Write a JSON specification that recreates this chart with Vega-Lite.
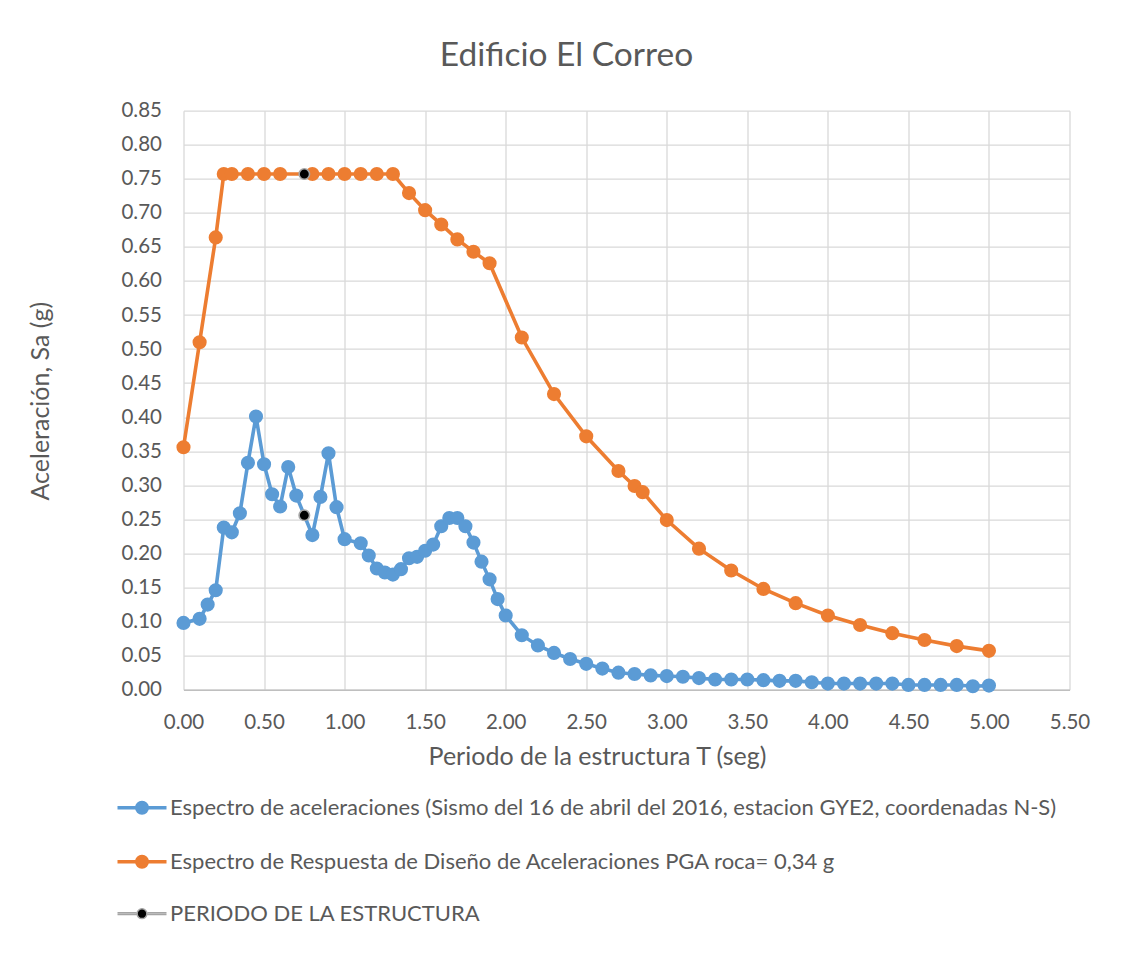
{
  "$schema": "https://vega.github.io/schema/vega-lite/v6.json",
  "width": 886,
  "height": 579,
  "autosize": {"type": "none"},
  "padding": {"left": 183.5, "top": 110.7, "right": 64.5, "bottom": 266.3},
  "background": "#ffffff",
  "title": {
    "text": "Edificio El Correo",
    "font": "Lato",
    "fontSize": 33.5,
    "fontWeight": "normal",
    "color": "#595959",
    "anchor": "middle",
    "frame": "group",
    "dx": -60,
    "offset": 27
  },
  "config": {
    "view": {"stroke": null},
    "axis": {
      "labelFont": "Lato",
      "labelFontSize": 20.5,
      "labelColor": "#595959",
      "titleFont": "Lato",
      "titleFontSize": 25,
      "titleFontWeight": "normal",
      "titleColor": "#595959",
      "gridColor": "#D9D9D9",
      "gridWidth": 1.3,
      "ticks": false,
      "labelFlush": false,
      "labelOverlap": false
    },
    "legend": {
      "labelFont": "Lato",
      "labelFontSize": 22,
      "labelColor": "#595959"
    }
  },
  "data": {
    "values": [
      {"serie": "A", "T": 0.00, "Sa": 0.098},
      {"serie": "A", "T": 0.10, "Sa": 0.104},
      {"serie": "A", "T": 0.15, "Sa": 0.125},
      {"serie": "A", "T": 0.20, "Sa": 0.146},
      {"serie": "A", "T": 0.25, "Sa": 0.238},
      {"serie": "A", "T": 0.30, "Sa": 0.231},
      {"serie": "A", "T": 0.35, "Sa": 0.259},
      {"serie": "A", "T": 0.40, "Sa": 0.333},
      {"serie": "A", "T": 0.45, "Sa": 0.401},
      {"serie": "A", "T": 0.50, "Sa": 0.331},
      {"serie": "A", "T": 0.55, "Sa": 0.287},
      {"serie": "A", "T": 0.60, "Sa": 0.269},
      {"serie": "A", "T": 0.65, "Sa": 0.327},
      {"serie": "A", "T": 0.70, "Sa": 0.285},
      {"serie": "A", "T": 0.80, "Sa": 0.227},
      {"serie": "A", "T": 0.85, "Sa": 0.283},
      {"serie": "A", "T": 0.90, "Sa": 0.347},
      {"serie": "A", "T": 0.95, "Sa": 0.268},
      {"serie": "A", "T": 1.00, "Sa": 0.221},
      {"serie": "A", "T": 1.10, "Sa": 0.215},
      {"serie": "A", "T": 1.15, "Sa": 0.197},
      {"serie": "A", "T": 1.20, "Sa": 0.178},
      {"serie": "A", "T": 1.25, "Sa": 0.172},
      {"serie": "A", "T": 1.30, "Sa": 0.169},
      {"serie": "A", "T": 1.35, "Sa": 0.177},
      {"serie": "A", "T": 1.40, "Sa": 0.193},
      {"serie": "A", "T": 1.45, "Sa": 0.195},
      {"serie": "A", "T": 1.50, "Sa": 0.204},
      {"serie": "A", "T": 1.55, "Sa": 0.213},
      {"serie": "A", "T": 1.60, "Sa": 0.240},
      {"serie": "A", "T": 1.65, "Sa": 0.252},
      {"serie": "A", "T": 1.70, "Sa": 0.252},
      {"serie": "A", "T": 1.75, "Sa": 0.240},
      {"serie": "A", "T": 1.80, "Sa": 0.216},
      {"serie": "A", "T": 1.85, "Sa": 0.188},
      {"serie": "A", "T": 1.90, "Sa": 0.162},
      {"serie": "A", "T": 1.95, "Sa": 0.133},
      {"serie": "A", "T": 2.00, "Sa": 0.109},
      {"serie": "A", "T": 2.10, "Sa": 0.080},
      {"serie": "A", "T": 2.20, "Sa": 0.065},
      {"serie": "A", "T": 2.30, "Sa": 0.054},
      {"serie": "A", "T": 2.40, "Sa": 0.045},
      {"serie": "A", "T": 2.50, "Sa": 0.038},
      {"serie": "A", "T": 2.60, "Sa": 0.031},
      {"serie": "A", "T": 2.70, "Sa": 0.025},
      {"serie": "A", "T": 2.80, "Sa": 0.023},
      {"serie": "A", "T": 2.90, "Sa": 0.021},
      {"serie": "A", "T": 3.00, "Sa": 0.020},
      {"serie": "A", "T": 3.10, "Sa": 0.019},
      {"serie": "A", "T": 3.20, "Sa": 0.017},
      {"serie": "A", "T": 3.30, "Sa": 0.015},
      {"serie": "A", "T": 3.40, "Sa": 0.015},
      {"serie": "A", "T": 3.50, "Sa": 0.015},
      {"serie": "A", "T": 3.60, "Sa": 0.014},
      {"serie": "A", "T": 3.70, "Sa": 0.013},
      {"serie": "A", "T": 3.80, "Sa": 0.013},
      {"serie": "A", "T": 3.90, "Sa": 0.011},
      {"serie": "A", "T": 4.00, "Sa": 0.009},
      {"serie": "A", "T": 4.10, "Sa": 0.009},
      {"serie": "A", "T": 4.20, "Sa": 0.009},
      {"serie": "A", "T": 4.30, "Sa": 0.009},
      {"serie": "A", "T": 4.40, "Sa": 0.009},
      {"serie": "A", "T": 4.50, "Sa": 0.007},
      {"serie": "A", "T": 4.60, "Sa": 0.007},
      {"serie": "A", "T": 4.70, "Sa": 0.007},
      {"serie": "A", "T": 4.80, "Sa": 0.007},
      {"serie": "A", "T": 4.90, "Sa": 0.005},
      {"serie": "A", "T": 5.00, "Sa": 0.006},
      {"serie": "B", "T": 0.00, "Sa": 0.356},
      {"serie": "B", "T": 0.10, "Sa": 0.510},
      {"serie": "B", "T": 0.20, "Sa": 0.664},
      {"serie": "B", "T": 0.25, "Sa": 0.757},
      {"serie": "B", "T": 0.30, "Sa": 0.757},
      {"serie": "B", "T": 0.40, "Sa": 0.757},
      {"serie": "B", "T": 0.50, "Sa": 0.757},
      {"serie": "B", "T": 0.60, "Sa": 0.757},
      {"serie": "B", "T": 0.80, "Sa": 0.757},
      {"serie": "B", "T": 0.90, "Sa": 0.757},
      {"serie": "B", "T": 1.00, "Sa": 0.757},
      {"serie": "B", "T": 1.10, "Sa": 0.757},
      {"serie": "B", "T": 1.20, "Sa": 0.757},
      {"serie": "B", "T": 1.30, "Sa": 0.757},
      {"serie": "B", "T": 1.40, "Sa": 0.729},
      {"serie": "B", "T": 1.50, "Sa": 0.704},
      {"serie": "B", "T": 1.60, "Sa": 0.683},
      {"serie": "B", "T": 1.70, "Sa": 0.661},
      {"serie": "B", "T": 1.80, "Sa": 0.643},
      {"serie": "B", "T": 1.90, "Sa": 0.626},
      {"serie": "B", "T": 2.10, "Sa": 0.517},
      {"serie": "B", "T": 2.30, "Sa": 0.434},
      {"serie": "B", "T": 2.50, "Sa": 0.372},
      {"serie": "B", "T": 2.70, "Sa": 0.321},
      {"serie": "B", "T": 2.80, "Sa": 0.299},
      {"serie": "B", "T": 2.85, "Sa": 0.290},
      {"serie": "B", "T": 3.00, "Sa": 0.249},
      {"serie": "B", "T": 3.20, "Sa": 0.207},
      {"serie": "B", "T": 3.40, "Sa": 0.175},
      {"serie": "B", "T": 3.60, "Sa": 0.148},
      {"serie": "B", "T": 3.80, "Sa": 0.127},
      {"serie": "B", "T": 4.00, "Sa": 0.109},
      {"serie": "B", "T": 4.20, "Sa": 0.095},
      {"serie": "B", "T": 4.40, "Sa": 0.083},
      {"serie": "B", "T": 4.60, "Sa": 0.073},
      {"serie": "B", "T": 4.80, "Sa": 0.064},
      {"serie": "B", "T": 5.00, "Sa": 0.057},
      {"serie": "C", "T": 0.75, "Sa": 0.757},
      {"serie": "C", "T": 0.75, "Sa": 0.256}
    ]
  },
  "transform": [
    {"calculate": "datum.serie === 'A' ? 'Espectro de aceleraciones (Sismo del 16 de abril del 2016, estacion GYE2, coordenadas N-S)' : datum.serie === 'B' ? 'Espectro de Respuesta de Diseño de Aceleraciones PGA roca= 0,34 g' : 'PERIODO DE LA ESTRUCTURA'", "as": "Serie"}
  ],
  "encoding": {
    "x": {
      "field": "T", "type": "quantitative",
      "scale": {"domain": [0, 5.5], "nice": false, "zero": false},
      "axis": {
        "values": [0, 0.5, 1, 1.5, 2, 2.5, 3, 3.5, 4, 4.5, 5, 5.5],
        "format": ".2f",
        "title": "Periodo de la estructura T (seg)",
        "domainColor": "#BFBFBF",
        "domainWidth": 1.5,
        "labelPadding": 23,
        "titleX": 413.5,
        "titleY": 67,
        "titleBaseline": "middle",
        "titleAlign": "center"
      }
    },
    "y": {
      "field": "Sa", "type": "quantitative",
      "scale": {"domain": [0, 0.85], "nice": false},
      "axis": {
        "values": [0, 0.05, 0.1, 0.15, 0.2, 0.25, 0.3, 0.35, 0.4, 0.45, 0.5, 0.55, 0.6, 0.65, 0.7, 0.75, 0.8, 0.85],
        "format": ".2f",
        "title": "Aceleración, Sa (g)",
        "domain": false,
        "labelPadding": 22,
        "titleX": -143.5,
        "titleY": 290,
        "titleAngle": -90,
        "titleBaseline": "middle",
        "titleAlign": "center"
      }
    }
  },
  "layer": [
    {
      "transform": [{"filter": "datum.serie !== 'C'"}],
      "mark": {"type": "line", "strokeWidth": 3.6},
      "encoding": {
        "stroke": {
          "field": "Serie", "type": "nominal",
          "scale": {
            "domain": ["Espectro de aceleraciones (Sismo del 16 de abril del 2016, estacion GYE2, coordenadas N-S)", "Espectro de Respuesta de Diseño de Aceleraciones PGA roca= 0,34 g", "PERIODO DE LA ESTRUCTURA"],
            "range": ["#5B9BD5", "#ED7D31", "#A5A5A5"]
          },
          "legend": {
            "title": null,
            "orient": "none",
            "direction": "vertical",
            "legendX": -52.5,
            "legendY": 686,
            "padding": 0,
            "symbolSize": 196,
            "symbolStrokeWidth": 0,
            "labelOffset": 17,
            "rowPadding": 28,
            "labelLimit": 1000,
            "encode": {
              "symbols": {
                "update": {
                  "shape": {"signal": "datum.value === 'PERIODO DE LA ESTRUCTURA' ? 'M-3.5,-0.12H-0.8M-3.5,0.12H-0.8M0.8,-0.12H3.5M0.8,0.12H3.5M-0.7,0A0.7,0.7 0 1,1 0.7,0A0.7,0.7 0 1,1 -0.7,0Z' : 'M-3.5,0H3.5M-0.75,0A0.75,0.75 0 1,1 0.75,0A0.75,0.75 0 1,1 -0.75,0Z'"},
                  "strokeWidth": {"signal": "datum.value === 'PERIODO DE LA ESTRUCTURA' ? 1.5 : 3.5"},
                  "size": {"value": 196},
                  "opacity": {"value": 1},
                  "fillOpacity": {"value": 1},
                  "strokeOpacity": {"value": 1}
                }
              }
            }
          }
        }
      }
    },
    {
      "transform": [{"filter": "datum.serie !== 'C'"}],
      "mark": {"type": "circle", "size": 200, "opacity": 1},
      "encoding": {
        "fill": {
          "field": "Serie", "type": "nominal",
          "scale": {
            "domain": ["Espectro de aceleraciones (Sismo del 16 de abril del 2016, estacion GYE2, coordenadas N-S)", "Espectro de Respuesta de Diseño de Aceleraciones PGA roca= 0,34 g", "PERIODO DE LA ESTRUCTURA"],
            "range": ["#5B9BD5", "#ED7D31", "#000000"]
          },
          "legend": {
            "title": null,
            "orient": "none",
            "direction": "vertical",
            "legendX": -52.5,
            "legendY": 686,
            "padding": 0,
            "symbolSize": 196,
            "symbolStrokeWidth": 0,
            "labelOffset": 17,
            "rowPadding": 28,
            "labelLimit": 1000,
            "encode": {
              "symbols": {
                "update": {
                  "shape": {"signal": "datum.value === 'PERIODO DE LA ESTRUCTURA' ? 'M-3.5,-0.12H-0.8M-3.5,0.12H-0.8M0.8,-0.12H3.5M0.8,0.12H3.5M-0.7,0A0.7,0.7 0 1,1 0.7,0A0.7,0.7 0 1,1 -0.7,0Z' : 'M-3.5,0H3.5M-0.75,0A0.75,0.75 0 1,1 0.75,0A0.75,0.75 0 1,1 -0.75,0Z'"},
                  "strokeWidth": {"signal": "datum.value === 'PERIODO DE LA ESTRUCTURA' ? 1.5 : 3.5"},
                  "size": {"value": 196},
                  "opacity": {"value": 1},
                  "fillOpacity": {"value": 1},
                  "strokeOpacity": {"value": 1}
                }
              }
            }
          }
        }
      }
    },
    {
      "transform": [{"filter": "datum.serie === 'C'"}],
      "mark": {"type": "circle", "size": 110, "fill": "#000000", "stroke": "#A5A5A5", "strokeWidth": 1.6, "opacity": 1},
      "encoding": {}
    }
  ]
}
